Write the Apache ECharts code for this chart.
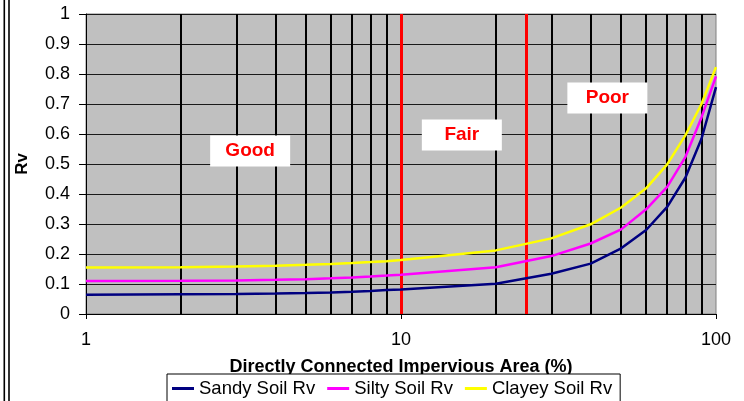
<!DOCTYPE html>
<html>
<head>
<meta charset="utf-8">
<script src="https://cdn.jsdelivr.net/npm/echarts@6/dist/echarts.min.js"></script>
<style>
  html, body { margin: 0; padding: 0; background: #fff; }
  #chart { width: 744px; height: 401px; }
</style>
</head>
<body>
<div id="chart"></div>
<script>
// Impervious cover (%) at which each runoff coefficient is tabulated
const imperviousPct = [1, 2, 3, 4, 5, 6, 7, 8, 9, 10, 20, 30, 40, 50, 60, 70, 80, 90, 100];

// Runoff coefficient Rv for each soil group
const sandyRv  = [0.064, 0.066, 0.067, 0.068, 0.070, 0.072, 0.074, 0.077, 0.080, 0.082, 0.101, 0.134, 0.168, 0.219, 0.280, 0.357, 0.455, 0.585, 0.756];
const siltyRv  = [0.110, 0.111, 0.112, 0.114, 0.116, 0.119, 0.122, 0.125, 0.128, 0.131, 0.156, 0.193, 0.235, 0.282, 0.349, 0.424, 0.524, 0.656, 0.792];
const clayeyRv = [0.155, 0.156, 0.158, 0.161, 0.164, 0.167, 0.170, 0.173, 0.176, 0.180, 0.212, 0.252, 0.299, 0.355, 0.419, 0.499, 0.596, 0.701, 0.823];

const seriesNames = ['Sandy Soil Rv', 'Silty Soil Rv', 'Clayey Soil Rv'];
const seriesColors = ['#000080', '#ff00ff', '#ffff00'];

// Minor log-scale gridlines and the condition thresholds
const minorGridX = [2, 3, 4, 5, 6, 7, 8, 9, 20, 30, 40, 50, 60, 70, 80, 90];
const thresholdX = [10, 25];

// Condition zone labels: name, impervious %, Rv
const zoneNames = ['Good', 'Fair', 'Poor'];
const zoneX = [3.32, 15.6, 45.2];
const zoneY = [0.543, 0.597, 0.72];

const FONT = "'Liberation Sans', Arial, sans-serif";

const pairs = (ys) => imperviousPct.map((x, i) => [x, ys[i]]);

const chart = echarts.init(document.getElementById('chart'), null, { renderer: 'canvas' });

const dataSeries = [sandyRv, siltyRv, clayeyRv].map((ys, i) => ({
  name: seriesNames[i],
  type: 'line',
  data: pairs(ys),
  showSymbol: false,
  symbol: 'none',
  smooth: false,
  z: 5,
  lineStyle: { color: seriesColors[i], width: 2.5 },
  itemStyle: { color: seriesColors[i] },
  emphasis: { disabled: true }
}));

chart.setOption({
  animation: false,
  backgroundColor: '#ffffff',
  textStyle: { fontFamily: FONT },
  grid: {
    left: 86, right: 28, top: 14, bottom: 87,
    show: true,
    backgroundColor: '#c0c0c0',
    borderColor: '#808080',
    borderWidth: 1
  },
  legend: {
    data: seriesNames,
    left: 167,
    top: 374,
    orient: 'horizontal',
    icon: 'rect',
    itemWidth: 22,
    itemHeight: 3,
    itemGap: 12,
    padding: [5, 8, 12, 5],
    borderColor: '#000',
    borderWidth: 1,
    backgroundColor: '#fff',
    textStyle: { fontFamily: FONT, fontSize: 18.5, color: '#000' },
    selectedMode: false
  },
  xAxis: {
    type: 'log',
    logBase: 10,
    min: 1,
    max: 100,
    name: 'Directly Connected Impervious Area (%)',
    nameLocation: 'middle',
    nameGap: 44,
    nameTextStyle: { fontFamily: FONT, fontSize: 18, fontWeight: 'bold', color: '#000' },
    axisLine: { show: true, lineStyle: { color: '#000', width: 1 } },
    axisTick: { show: true, inside: false, length: 5, lineStyle: { color: '#000' } },
    minorTick: { show: false },
    axisLabel: { fontFamily: FONT, fontSize: 18, color: '#000', margin: 17 },
    splitLine: { show: false }
  },
  yAxis: {
    type: 'value',
    min: 0,
    max: 1,
    interval: 0.1,
    name: 'Rv',
    nameLocation: 'middle',
    nameGap: 55,
    nameRotate: 90,
    nameTextStyle: { fontFamily: FONT, fontSize: 17, fontWeight: 'bold', color: '#000' },
    axisLine: { show: true, lineStyle: { color: '#000', width: 1 } },
    axisTick: { show: true, inside: false, length: 7, lineStyle: { color: '#000' } },
    axisLabel: { fontFamily: FONT, fontSize: 18, color: '#000', margin: 16 },
    splitLine: { show: true, lineStyle: { color: '#1a1a1a', width: 1 } }
  },
  graphic: [
    // double frame rule at the left edge of the page
    { type: 'rect', shape: { x: 3.5, y: 0, width: 1.6, height: 401 }, style: { fill: '#000' }, silent: true },
    { type: 'rect', shape: { x: 8.2, y: 0, width: 1.6, height: 401 }, style: { fill: '#000' }, silent: true }
  ],
  series: [
    {
      name: 'minor-grid',
      type: 'line',
      data: [],
      z: 1,
      silent: true,
      markLine: {
        silent: true,
        symbol: 'none',
        label: { show: false },
        lineStyle: { color: '#000', width: 2, type: 'solid' },
        emphasis: { disabled: true },
        data: minorGridX.map((x) => ({ xAxis: x }))
      }
    },
    ...dataSeries,
    {
      name: 'thresholds',
      type: 'line',
      data: [],
      z: 8,
      silent: true,
      markLine: {
        silent: true,
        symbol: 'none',
        label: { show: false },
        lineStyle: { color: '#ff0000', width: 3, type: 'solid' },
        emphasis: { disabled: true },
        data: thresholdX.map((x) => ({ xAxis: x }))
      }
    },
    {
      name: 'zones',
      type: 'line',
      data: [],
      z: 9,
      silent: true,
      markPoint: {
        silent: true,
        symbol: 'rect',
        symbolSize: [80, 31],
        itemStyle: { color: '#ffffff' },
        label: {
          show: true,
          position: 'inside',
          color: '#ff0000',
          fontFamily: FONT,
          fontWeight: 'bold',
          fontSize: 19,
          formatter: (p) => p.name
        },
        data: zoneNames.map((n, i) => ({ name: n, coord: [zoneX[i], zoneY[i]] }))
      }
    }
  ]
});
</script>
</body>
</html>
